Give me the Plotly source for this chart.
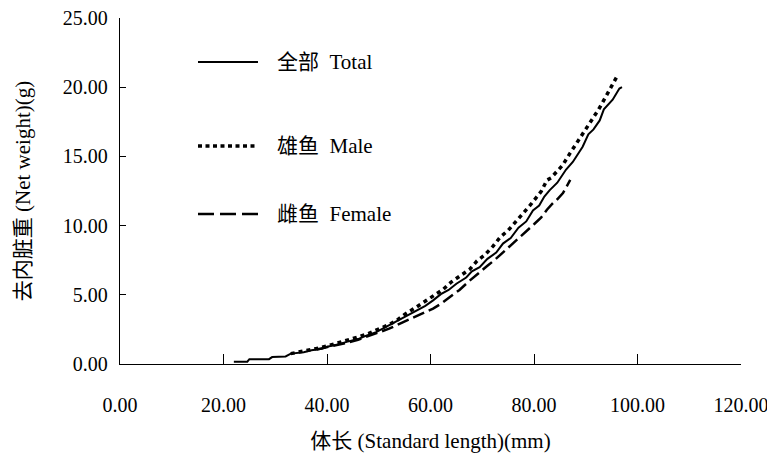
import plotly.graph_objects as go

# ---- data ----
total_len = [22.0, 24.6, 25.0, 28.8, 29.4, 32.0, 33.0, 35.5, 37.0, 39.0, 40.0, 42.0, 43.8, 46.0,
             47.6, 49.5, 51.5, 53.0, 54.5, 56.0, 57.5, 59.0, 60.5, 62.0, 63.5, 65.0, 66.9, 68.0,
             69.5, 71.0, 72.7, 74.0, 75.5, 77.0, 78.5, 79.8, 81.0, 82.0, 83.0, 84.5, 86.2, 87.5,
             89.4, 90.5, 91.5, 92.7, 93.5, 95.2, 96.5, 97.0]
total_wt = [0.17, 0.17, 0.35, 0.35, 0.50, 0.55, 0.75, 0.85, 1.00, 1.10, 1.25, 1.40, 1.60, 1.80,
            2.05, 2.30, 2.70, 3.00, 3.35, 3.60, 3.95, 4.20, 4.60, 5.05, 5.35, 5.80, 6.25, 6.70,
            7.00, 7.60, 8.05, 8.70, 9.10, 9.85, 10.30, 11.10, 11.45, 12.10, 12.55, 13.10, 14.05, 14.60,
            15.70, 16.60, 16.95, 17.60, 18.40, 19.10, 19.90, 20.00]

male_len = [33.0, 35.0, 36.5, 38.0, 40.0, 42.0, 44.0, 46.0, 48.0, 50.0, 52.0, 53.5, 55.0, 57.3,
            59.0, 60.5, 62.4, 64.0, 65.5, 67.6, 69.0, 70.5, 72.1, 73.5, 75.0, 76.6, 78.0, 79.5,
            81.4, 82.5, 83.3, 85.5, 87.0, 88.8, 90.7, 92.5, 94.0, 95.6, 96.0]
male_wt = [0.75, 0.88, 0.98, 1.12, 1.30, 1.50, 1.72, 1.95, 2.20, 2.52, 2.85, 3.15, 3.58, 4.12,
           4.52, 4.88, 5.38, 5.92, 6.30, 6.85, 7.45, 7.88, 8.52, 9.18, 9.65, 10.32, 10.90, 11.58,
           12.48, 13.28, 13.45, 14.35, 15.25, 16.30, 17.40, 18.40, 19.40, 20.50, 20.75]

female_len = [38.0, 40.0, 42.0, 44.0, 46.0, 48.0, 50.0, 52.0, 54.0, 56.0, 58.0, 60.5, 62.0, 63.5,
              65.6, 67.5, 69.5, 71.0, 72.5, 74.0, 75.5, 76.5, 78.2, 80.0, 81.4, 82.5, 83.6, 84.5,
              85.6, 86.3, 87.0]
female_wt = [1.05, 1.20, 1.35, 1.55, 1.75, 2.00, 2.25, 2.55, 2.90, 3.25, 3.55, 4.00, 4.35, 4.75,
             5.35, 6.00, 6.65, 7.10, 7.55, 8.05, 8.60, 8.90, 9.45, 10.10, 10.60, 11.15, 11.60, 11.90,
             12.35, 12.85, 13.30]

series_names = ["全部  Total", "雄鱼  Male", "雌鱼  Female"]
x_ticks = [0, 20, 40, 60, 80, 100, 120]
y_ticks = [0, 5, 10, 15, 20, 25]

FONT = "Liberation Serif, Times New Roman, Noto Sans CJK SC, serif"

fig = go.Figure()
fig.add_trace(go.Scatter(x=total_len, y=total_wt, mode="lines", name=series_names[0],
                         line=dict(color="black", width=2, dash="solid"), showlegend=False))
fig.add_trace(go.Scatter(x=male_len, y=male_wt, mode="lines", name=series_names[1],
                         line=dict(color="black", width=3.5, dash="4px,4px"), showlegend=False))
fig.add_trace(go.Scatter(x=female_len, y=female_wt, mode="lines", name=series_names[2],
                         line=dict(color="black", width=2.5, dash="12px,5px"), showlegend=False))

# manual legend (paper coordinates)
legend_y = [0.873, 0.630, 0.4335]
legend_dash = ["solid", "4px,3.5px", "16px,6px"]
legend_w = [2, 3.5, 2.5]
for name, yy, dsh, w in zip(series_names, legend_y, legend_dash, legend_w):
    fig.add_shape(type="line", xref="paper", yref="paper", x0=0.1256, x1=0.2222, y0=yy, y1=yy,
                  line=dict(color="black", width=w, dash=dsh))
    fig.add_annotation(xref="paper", yref="paper", x=0.2496, y=yy, text=name, showarrow=False,
                       xanchor="left", yanchor="middle", font=dict(family=FONT, size=21, color="black"))

fig.update_layout(
    width=767, height=463,
    margin=dict(l=120, r=26, t=18, b=99),
    plot_bgcolor="white", paper_bgcolor="white",
    font=dict(family=FONT, size=20, color="black"),
    showlegend=False,
)
fig.update_xaxes(range=[0, 120], tickvals=x_ticks, ticktext=[f"{v:.2f}" for v in x_ticks],
                 showgrid=False, zeroline=False, showline=True, linecolor="black", linewidth=1.3,
                 ticks="inside", ticklen=10, tickcolor="black", tickwidth=1,
                 ticklabelstandoff=23, ticklabeloverflow="allow", automargin=False,
                 title=dict(text="体长 (Standard length)(mm)", font=dict(family=FONT, size=21), standoff=18))
fig.update_yaxes(range=[0, 25], tickvals=y_ticks, ticktext=[f"{v:.2f}" for v in y_ticks],
                 showgrid=False, zeroline=False, showline=True, linecolor="black", linewidth=1.3,
                 ticks="inside", ticklen=6, tickcolor="black", tickwidth=1,
                 ticklabelstandoff=7, automargin=False,
                 title=dict(text="去内脏重 (Net weight)(g)", font=dict(family=FONT, size=21), standoff=26))

fig.write_html("out.html")
